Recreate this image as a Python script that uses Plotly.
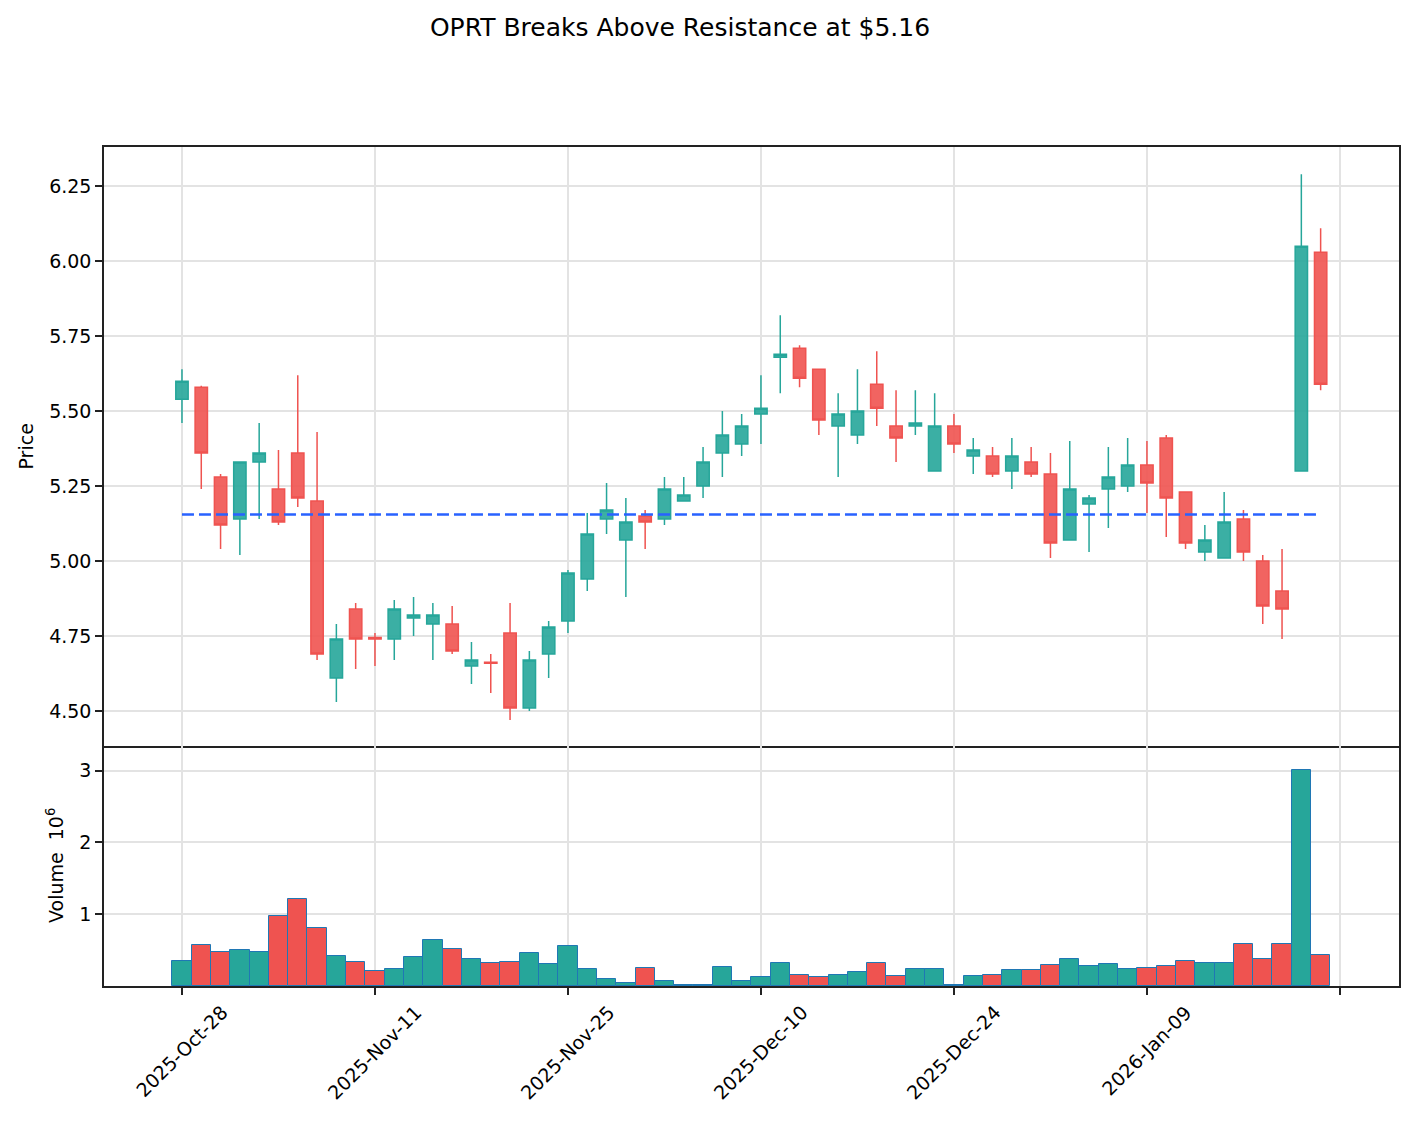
import datetime as dt
import plotly.graph_objects as go

# ---------------- data ----------------
dates = ["2025-10-28","2025-10-29","2025-10-30","2025-10-31","2025-11-03","2025-11-04","2025-11-05",
         "2025-11-06","2025-11-07","2025-11-10","2025-11-11","2025-11-12","2025-11-13","2025-11-14",
         "2025-11-17","2025-11-18","2025-11-19","2025-11-20","2025-11-21","2025-11-24","2025-11-25",
         "2025-11-26","2025-11-28","2025-12-01","2025-12-02","2025-12-03","2025-12-04","2025-12-05",
         "2025-12-08","2025-12-09","2025-12-10","2025-12-11","2025-12-12","2025-12-15","2025-12-16",
         "2025-12-17","2025-12-18","2025-12-19","2025-12-22","2025-12-23","2025-12-24","2025-12-26",
         "2025-12-29","2025-12-30","2025-12-31","2026-01-02","2026-01-05","2026-01-06","2026-01-07",
         "2026-01-08","2026-01-09","2026-01-12","2026-01-13","2026-01-14","2026-01-15","2026-01-16",
         "2026-01-20","2026-01-21","2026-01-22","2026-01-23"]

open_ = [5.54,5.58,5.28,5.14,5.33,5.24,5.36,5.20,4.61,4.84,4.745,4.74,4.81,4.79,4.79,4.65,4.662,4.76,4.51,4.69,
         4.80,4.94,5.14,5.07,5.15,5.14,5.20,5.25,5.36,5.39,5.49,5.68,5.71,5.64,5.45,5.42,5.59,5.45,5.45,5.30,
         5.45,5.35,5.35,5.30,5.33,5.29,5.07,5.19,5.24,5.25,5.32,5.41,5.23,5.03,5.01,5.14,5.00,4.90,5.30,6.03]
high = [5.64,5.585,5.29,5.33,5.46,5.37,5.62,5.43,4.79,4.86,4.76,4.87,4.88,4.86,4.85,4.73,4.69,4.86,4.70,4.80,
        4.97,5.16,5.26,5.21,5.17,5.28,5.28,5.38,5.50,5.49,5.62,5.82,5.72,5.64,5.56,5.64,5.70,5.57,5.57,5.56,
        5.49,5.41,5.38,5.41,5.38,5.36,5.40,5.22,5.38,5.41,5.40,5.42,5.23,5.12,5.23,5.17,5.02,5.04,6.29,6.11]
low = [5.46,5.24,5.04,5.02,5.14,5.12,5.18,4.67,4.53,4.64,4.65,4.67,4.75,4.67,4.69,4.59,4.56,4.47,4.50,4.61,
       4.76,4.90,5.09,4.88,5.04,5.12,5.20,5.21,5.28,5.35,5.39,5.56,5.58,5.42,5.28,5.39,5.45,5.33,5.42,5.30,
       5.36,5.29,5.28,5.24,5.28,5.01,5.07,5.03,5.11,5.23,5.16,5.08,5.04,5.00,5.01,5.00,4.79,4.74,5.30,5.57]
close = [5.60,5.36,5.12,5.33,5.36,5.13,5.21,4.69,4.74,4.74,4.74,4.84,4.82,4.82,4.70,4.67,4.659,4.51,4.67,4.78,
         4.96,5.09,5.17,5.13,5.13,5.24,5.22,5.33,5.42,5.45,5.51,5.69,5.61,5.47,5.49,5.50,5.51,5.41,5.46,5.45,
         5.39,5.37,5.29,5.35,5.29,5.06,5.24,5.21,5.28,5.32,5.26,5.21,5.06,5.07,5.13,5.03,4.85,4.84,6.05,5.59]
volume_m = [0.346,0.568,0.471,0.499,0.476,0.970,1.206,0.808,0.420,0.333,0.208,0.236,0.406,0.642,0.517,0.379,
            0.319,0.333,0.462,0.309,0.559,0.240,0.102,0.046,0.254,0.074,0.018,0.018,0.268,0.074,0.129,0.319,
            0.152,0.125,0.157,0.194,0.319,0.139,0.236,0.236,0.018,0.143,0.157,0.222,0.222,0.291,0.374,0.282,
            0.305,0.240,0.254,0.282,0.346,0.319,0.319,0.582,0.374,0.582,3.007,0.430]
resistance_level = 5.155
title_text = "OPRT Breaks Above Resistance at $5.16"
price_ticks = [4.50, 4.75, 5.00, 5.25, 5.50, 5.75, 6.00, 6.25]
volume_ticks = [1, 2, 3]
tick_step = 10

# ---------------- styling ----------------
UP = "#26a69a"
DOWN = "#ef5350"
UP_FILL = "rgba(38,166,154,0.9)"
DOWN_FILL = "rgba(239,83,80,0.9)"
FONT = "DejaVu Sans"
W, H = 1415, 1126
L, R, T, B = 104, 16, 147, 140
plot_w = W - L - R
plot_h = H - T - B
vol_px = 240
split = vol_px / plot_h

xi = list(range(len(dates)))
vol_colors = [UP if c >= o else DOWN for o, c in zip(open_, close)]

fig = go.Figure()
fig.add_trace(go.Candlestick(
    x=xi, open=open_, high=high, low=low, close=close,
    increasing=dict(line=dict(color=UP, width=1.5), fillcolor=UP_FILL),
    decreasing=dict(line=dict(color=DOWN, width=1.5), fillcolor=DOWN_FILL),
    whiskerwidth=0, xaxis="x", yaxis="y", showlegend=False, hoverinfo="x+y"))
fig.add_trace(go.Scatter(
    x=[xi[0], xi[-1]], y=[resistance_level, resistance_level], mode="lines",
    line=dict(color="#2962ff", width=2.4, dash="12px,5px"),
    xaxis="x", yaxis="y", showlegend=False))
fig.add_trace(go.Bar(
    x=xi, y=volume_m, width=1.0,
    marker=dict(color=vol_colors, line=dict(color="#1f77b4", width=1)),
    xaxis="x2", yaxis="y2", showlegend=False))

tickvals = list(range(0, len(dates) + 1, tick_step))
xr = [-4.04, 63.06]
grid = dict(showgrid=True, gridcolor="#e3e3e3", gridwidth=1.5, zeroline=False)
line = dict(showline=True, linecolor="#222", linewidth=1.5)

annotations = []
for i in tickvals:
    if i < len(dates):
        lbl = dt.datetime.strptime(dates[i], "%Y-%m-%d").strftime("%Y-%b-%d")
        annotations.append(dict(x=i, y=0, xref="x2", yref="paper", text=lbl, showarrow=False,
                                textangle=-45, xanchor="center", yanchor="top", yshift=-12,
                                font=dict(family=FONT, size=19, color="#000")))
annotations.append(dict(x=(25 - L) / plot_w, y=split + (1 - split) / 2, xref="paper", yref="paper",
                        text="Price", showarrow=False, textangle=-90, xanchor="center", yanchor="middle",
                        font=dict(family=FONT, size=19, color="#000")))
annotations.append(dict(x=(55 - L) / plot_w, y=split / 2, xref="paper", yref="paper",
                        text="Volume  10<sup>6</sup>", showarrow=False, textangle=-90,
                        xanchor="center", yanchor="middle",
                        font=dict(family=FONT, size=19, color="#000")))

fig.update_layout(
    width=W, height=H, autosize=False,
    margin=dict(l=L, r=R, t=T, b=B, pad=0),
    paper_bgcolor="white", plot_bgcolor="white",
    font=dict(family=FONT, size=19, color="#000"),
    title=dict(text=title_text, x=680 / W, xanchor="center", y=1 - 27 / H, yanchor="middle",
               yref="container", font=dict(family=FONT, size=25, color="#000")),
    boxgap=0.36, boxgroupgap=0.0,
    bargap=0,
    xaxis=dict(domain=[0, 1], anchor="y", range=xr, tickmode="array", tickvals=tickvals,
               showticklabels=False, ticks="", rangeslider=dict(visible=False),
               mirror=True, **line, **grid),
    yaxis=dict(domain=[split, 1], anchor="x", range=[4.383, 6.381], tickmode="array",
               tickvals=price_ticks, ticktext=[f"{v:.2f}" for v in price_ticks],
               ticks="outside", ticklen=7, tickwidth=1.5, tickcolor="#222",
               mirror=True, **line, **grid),
    xaxis2=dict(domain=[0, 1], anchor="y2", range=xr, matches="x", tickmode="array", tickvals=tickvals,
                showticklabels=False, ticks="outside", ticklen=7, tickwidth=1.5, tickcolor="#222",
                mirror=False, **line, **grid),
    yaxis2=dict(domain=[0, split], anchor="x2", range=[0, 3.342], tickmode="array",
                tickvals=volume_ticks, ticktext=[str(v) for v in volume_ticks],
                ticks="outside", ticklen=7, tickwidth=1.5, tickcolor="#222",
                mirror=True, **line, **grid),
    annotations=annotations,
)

fig.write_html("out.html")
